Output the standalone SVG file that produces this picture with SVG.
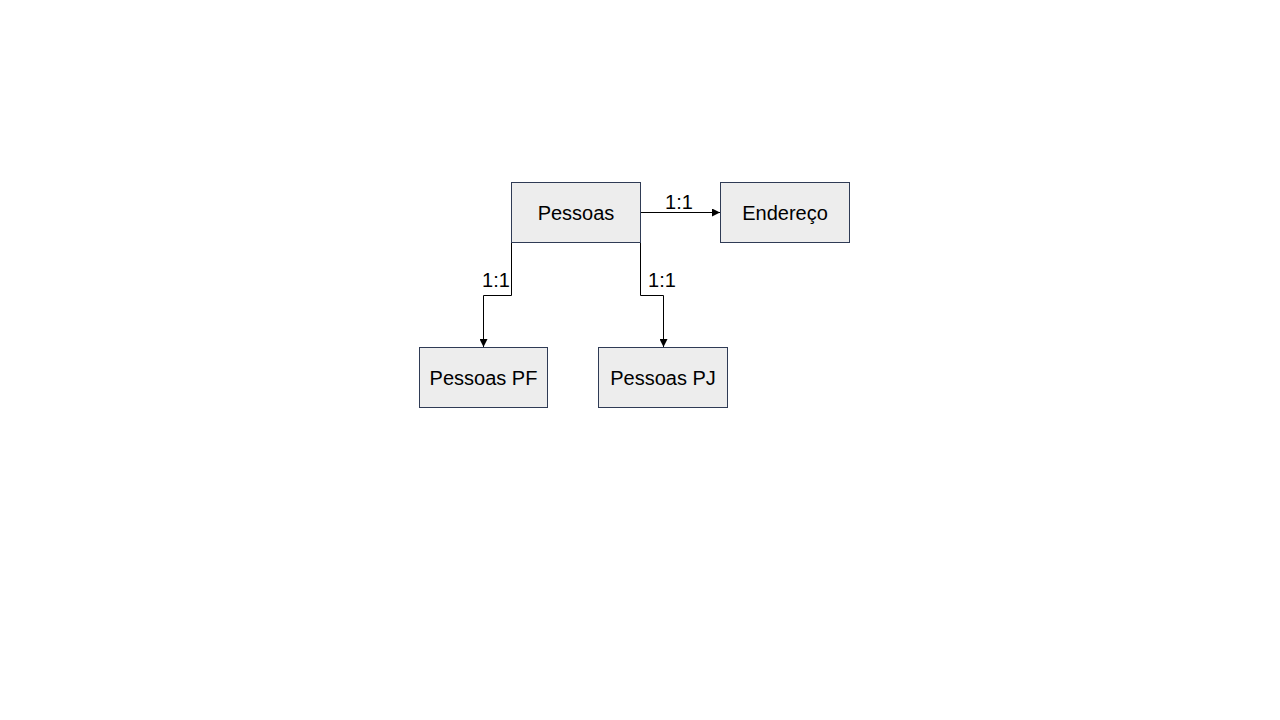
<svg xmlns="http://www.w3.org/2000/svg" width="1280" height="720" viewBox="0 0 1280 720">
<defs>
<style>
.box{fill:#EDEDED;stroke:#2F3B55;stroke-width:1}
.t{font-family:"Liberation Sans",Arial,sans-serif;font-size:20px;fill:#000;text-anchor:middle;dominant-baseline:central}
.c{fill:none;stroke:#000;stroke-width:1}
</style>
<marker id="a" markerWidth="8" markerHeight="8" refX="8" refY="4" orient="auto" markerUnits="userSpaceOnUse">
<path d="M0,0 L8,4 L0,8 Z" fill="#000"/>
</marker>
</defs>
<rect width="1280" height="720" fill="#fff"/>
<g id="connectors">
<path class="c" d="M640.5,212.5 H720" marker-end="url(#a)"/>
<path class="c" d="M511.5,242 V295.5 H483.5 V347" marker-end="url(#a)"/>
<path class="c" d="M640.5,242 V295.5 H663.5 V347" marker-end="url(#a)"/>
<text class="t" x="679" y="202">1:1</text>
<text class="t" x="496" y="280">1:1</text>
<text class="t" x="662" y="280">1:1</text>
</g>
<g id="pessoas"><rect class="box" x="511.5" y="182.5" width="129" height="60"/><text class="t" x="576" y="213">Pessoas</text></g>
<g id="endereco"><rect class="box" x="720.5" y="182.5" width="129" height="60"/><text class="t" x="785" y="213">Endereço</text></g>
<g id="pessoas-pf"><rect class="box" x="419.5" y="347.5" width="128" height="60"/><text class="t" x="483.5" y="378">Pessoas PF</text></g>
<g id="pessoas-pj"><rect class="box" x="598.5" y="347.5" width="129" height="60"/><text class="t" x="663" y="378">Pessoas PJ</text></g>
</svg>
